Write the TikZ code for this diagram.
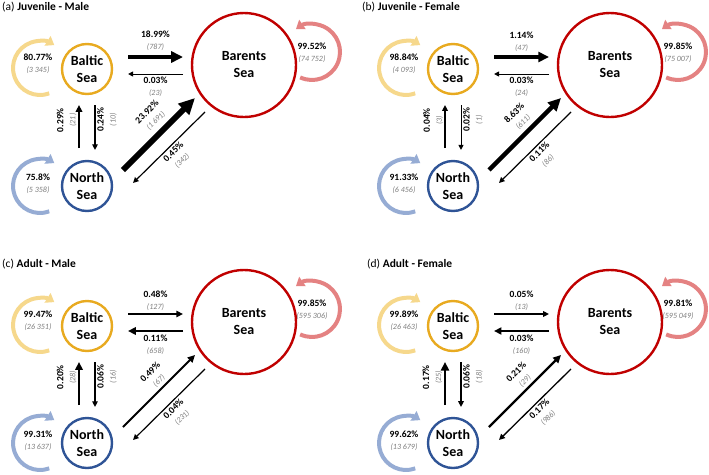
\documentclass[tikz,border=0pt]{standalone}
\usepackage{fontspec}
\setmainfont{Carlito}
\usetikzlibrary{arrows.meta}

\definecolor{balticcol}{RGB}{232,170,32}
\definecolor{balticloop}{RGB}{246,216,140}
\definecolor{northcol}{RGB}{47,84,150}
\definecolor{northloop}{RGB}{150,172,212}
\definecolor{barentscol}{RGB}{192,0,0}
\definecolor{barentsloop}{RGB}{228,130,130}
\definecolor{countgray}{RGB}{125,125,125}

% number of fish, under the percentage
\newcommand{\flowcount}[1]{{\fontsize{8}{10}\selectfont\mdseries\itshape\color{countgray}(#1)}}

\begin{document}
\begin{tikzpicture}[
        x = 1pt, y = 1pt,
        > = {Triangle[length=3pt 2.2, width=3pt 2]}, % filled arrow head
        sea/.style = {circle, draw, line width=2.4pt, minimum size=50pt,
            inner sep=0pt, align=center, font=\fontsize{14}{17}\selectfont\bfseries},
        big sea/.style = {sea, minimum size=104pt},
        flow/.style = {->, line width=#1},
        stay/.style = {line width=4pt, -{Triangle[length=8pt, width=11pt]}},
        pct/.style = {align=center, inner sep=1.5pt, font=\fontsize{9.5}{12}\selectfont\bfseries},
        title/.style = {anchor=west, inner sep=0pt, font=\fontsize{11.5}{13}\selectfont}
    ]

    \useasboundingbox (0,0) rectangle (709,-474);

    % (a) juvenile males
    \begin{scope}
        \node[title] (titleA) at (2,-7) {(a) \textbf{Juvenile - Male}};
        \node[sea, draw=balticcol] (baltA) at (87,-69) {Baltic\\Sea};
        \node[sea, draw=northcol] (northA) at (87,-186) {North\\Sea};
        \node[big sea, draw=barentscol] (barentsA) at (244,-65) {Barents\\Sea};

        \draw[stay, balticloop] ([shift={(-47,1)}]baltA.center) ++(-70:27) arc[start angle=-70, end angle=-302, radius=27];
        \draw[stay, northloop] ([shift={(-47,0)}]northA.center) ++(-70:27) arc[start angle=-70, end angle=-302, radius=27];
        \draw[stay, barentsloop] ([shift={(68,13)}]barentsA.center) ++(-115:28) arc[start angle=-115, end angle=125, radius=28];
        \node[pct] (stayBaltA) at ([shift={(-49,5)}]baltA.center) {80.77\%\\\flowcount{3 345}};
        \node[pct] (stayNorthA) at ([shift={(-49,2)}]northA.center) {75.8\%\\\flowcount{5 358}};
        \node[pct] (stayBarentsA) at ([shift={(68,12)}]barentsA.center) {99.52\%\\\flowcount{74 752}};

        \draw[flow=4pt] ([shift={(41,12)}]baltA.center) -- ([shift={(-61,8)}]barentsA.center)
            node[pct, midway, above=2.5pt] (lBaltBarA) {18.99\%\\\flowcount{787}};
        \draw[flow=1pt] ([shift={(-61,-9)}]barentsA.center) -- ([shift={(41,-5)}]baltA.center)
            node[pct, midway, below=0.5pt] (lBarBaltA) {0.03\%\\\flowcount{23}};
        \draw[flow=1.8pt] ([shift={(-8,38)}]northA.center) -- ([shift={(-8,-36)}]baltA.center)
            node[pct, pos=0.65, rotate=90, anchor=south] (lNorthBaltA) {0.29\%\\\flowcount{21}};
        \draw[flow=1.2pt] ([shift={(8,-36)}]baltA.center) -- ([shift={(8,36)}]northA.center)
            node[pct, pos=0.33, rotate=90, anchor=north] (lBaltNorthA) {0.24\%\\\flowcount{10}};
        \draw[flow=6pt] ([shift={(36,16)}]northA.center) -- ([shift={(-49,-33)}]barentsA.center)
            node[pct, pos=0.57, sloped, above=3.5pt] (lNorthBarA) {23.92\%\\\flowcount{1 691}};
        \draw[flow=1.2pt] ([shift={(-39,-47)}]barentsA.center) -- ([shift={(46,3)}]northA.center)
            node[pct, midway, sloped, below=0.5pt] (lBarNorthA) {0.45\%\\\flowcount{342}};
    \end{scope}

    % (b) juvenile females
    \begin{scope}[xshift=366pt]
        \node[title] (titleB) at (-4,-7) {(b) \textbf{Juvenile - Female}};
        \node[sea, draw=balticcol] (baltB) at (87,-69) {Baltic\\Sea};
        \node[sea, draw=northcol] (northB) at (87,-186) {North\\Sea};
        \node[big sea, draw=barentscol] (barentsB) at (244,-65) {Barents\\Sea};

        \draw[stay, balticloop] ([shift={(-47,1)}]baltB.center) ++(-70:27) arc[start angle=-70, end angle=-302, radius=27];
        \draw[stay, northloop] ([shift={(-47,0)}]northB.center) ++(-70:27) arc[start angle=-70, end angle=-302, radius=27];
        \draw[stay, barentsloop] ([shift={(68,13)}]barentsB.center) ++(-115:28) arc[start angle=-115, end angle=125, radius=28];
        \node[pct] (stayBaltB) at ([shift={(-49,5)}]baltB.center) {98.84\%\\\flowcount{4 093}};
        \node[pct] (stayNorthB) at ([shift={(-49,2)}]northB.center) {91.33\%\\\flowcount{6 456}};
        \node[pct] (stayBarentsB) at ([shift={(68,12)}]barentsB.center) {99.85\%\\\flowcount{75 007}};

        \draw[flow=3.5pt] ([shift={(41,12)}]baltB.center) -- ([shift={(-61,8)}]barentsB.center)
            node[pct, midway, above=2.2pt] (lBaltBarB) {1.14\%\\\flowcount{47}};
        \draw[flow=1pt] ([shift={(-61,-9)}]barentsB.center) -- ([shift={(41,-5)}]baltB.center)
            node[pct, midway, below=0.5pt] (lBarBaltB) {0.03\%\\\flowcount{24}};
        \draw[flow=1.3pt] ([shift={(-8,38)}]northB.center) -- ([shift={(-8,-36)}]baltB.center)
            node[pct, pos=0.65, rotate=90, anchor=south] (lNorthBaltB) {0.04\%\\\flowcount{3}};
        \draw[flow=1pt] ([shift={(8,-36)}]baltB.center) -- ([shift={(8,36)}]northB.center)
            node[pct, pos=0.33, rotate=90, anchor=north] (lBaltNorthB) {0.02\%\\\flowcount{1}};
        \draw[flow=4.5pt] ([shift={(36,16)}]northB.center) -- ([shift={(-49,-33)}]barentsB.center)
            node[pct, pos=0.57, sloped, above=2.5pt] (lNorthBarB) {8.63\%\\\flowcount{611}};
        \draw[flow=1.2pt] ([shift={(-39,-47)}]barentsB.center) -- ([shift={(46,3)}]northB.center)
            node[pct, midway, sloped, below=0.5pt] (lBarNorthB) {0.11\%\\\flowcount{86}};
    \end{scope}

    % (c) adult males
    \begin{scope}[yshift=-257pt]
        \node[title] (titleC) at (2,-7) {(c) \textbf{Adult - Male}};
        \node[sea, draw=balticcol] (baltC) at (87,-69) {Baltic\\Sea};
        \node[sea, draw=northcol] (northC) at (87,-186) {North\\Sea};
        \node[big sea, draw=barentscol] (barentsC) at (244,-65) {Barents\\Sea};

        \draw[stay, balticloop] ([shift={(-47,1)}]baltC.center) ++(-70:27) arc[start angle=-70, end angle=-302, radius=27];
        \draw[stay, northloop] ([shift={(-47,0)}]northC.center) ++(-70:27) arc[start angle=-70, end angle=-302, radius=27];
        \draw[stay, barentsloop] ([shift={(68,13)}]barentsC.center) ++(-115:28) arc[start angle=-115, end angle=125, radius=28];
        \node[pct] (stayBaltC) at ([shift={(-49,5)}]baltC.center) {99.47\%\\\flowcount{26 351}};
        \node[pct] (stayNorthC) at ([shift={(-49,2)}]northC.center) {99.31\%\\\flowcount{13 637}};
        \node[pct] (stayBarentsC) at ([shift={(68,12)}]barentsC.center) {99.85\%\\\flowcount{595 306}};

        \draw[flow=1.6pt] ([shift={(41,12)}]baltC.center) -- ([shift={(-61,8)}]barentsC.center)
            node[pct, midway, above=1pt] (lBaltBarC) {0.48\%\\\flowcount{127}};
        \draw[flow=2.2pt] ([shift={(-61,-9)}]barentsC.center) -- ([shift={(41,-5)}]baltC.center)
            node[pct, midway, below=1pt] (lBarBaltC) {0.11\%\\\flowcount{658}};
        \draw[flow=2.2pt] ([shift={(-8,38)}]northC.center) -- ([shift={(-8,-36)}]baltC.center)
            node[pct, pos=0.65, rotate=90, anchor=south] (lNorthBaltC) {0.20\%\\\flowcount{28}};
        \draw[flow=1.2pt] ([shift={(8,-36)}]baltC.center) -- ([shift={(8,36)}]northC.center)
            node[pct, pos=0.33, rotate=90, anchor=north] (lBaltNorthC) {0.06\%\\\flowcount{16}};
        \draw[flow=2pt] ([shift={(36,16)}]northC.center) -- ([shift={(-49,-33)}]barentsC.center)
            node[pct, pos=0.57, sloped, above=1pt] (lNorthBarC) {0.49\%\\\flowcount{67}};
        \draw[flow=1.2pt] ([shift={(-39,-47)}]barentsC.center) -- ([shift={(46,3)}]northC.center)
            node[pct, midway, sloped, below=0.5pt] (lBarNorthC) {0.04\%\\\flowcount{231}};
    \end{scope}

    % (d) adult females
    \begin{scope}[xshift=366pt, yshift=-257pt]
        \node[title] (titleD) at (1,-7) {(d) \textbf{Adult - Female}};
        \node[sea, draw=balticcol] (baltD) at (87,-69) {Baltic\\Sea};
        \node[sea, draw=northcol] (northD) at (87,-186) {North\\Sea};
        \node[big sea, draw=barentscol] (barentsD) at (244,-65) {Barents\\Sea};

        \draw[stay, balticloop] ([shift={(-47,1)}]baltD.center) ++(-70:27) arc[start angle=-70, end angle=-302, radius=27];
        \draw[stay, northloop] ([shift={(-47,0)}]northD.center) ++(-70:27) arc[start angle=-70, end angle=-302, radius=27];
        \draw[stay, barentsloop] ([shift={(68,13)}]barentsD.center) ++(-115:28) arc[start angle=-115, end angle=125, radius=28];
        \node[pct] (stayBaltD) at ([shift={(-49,5)}]baltD.center) {99.89\%\\\flowcount{26 463}};
        \node[pct] (stayNorthD) at ([shift={(-49,2)}]northD.center) {99.62\%\\\flowcount{13 679}};
        \node[pct] (stayBarentsD) at ([shift={(68,12)}]barentsD.center) {99.81\%\\\flowcount{595 049}};

        \draw[flow=1.3pt] ([shift={(41,12)}]baltD.center) -- ([shift={(-61,8)}]barentsD.center)
            node[pct, midway, above=1pt] (lBaltBarD) {0.05\%\\\flowcount{13}};
        \draw[flow=2pt] ([shift={(-61,-9)}]barentsD.center) -- ([shift={(41,-5)}]baltD.center)
            node[pct, midway, below=1pt] (lBarBaltD) {0.03\%\\\flowcount{160}};
        \draw[flow=2.5pt] ([shift={(-8,38)}]northD.center) -- ([shift={(-8,-36)}]baltD.center)
            node[pct, pos=0.65, rotate=90, anchor=south] (lNorthBaltD) {0.17\%\\\flowcount{25}};
        \draw[flow=1.3pt] ([shift={(8,-36)}]baltD.center) -- ([shift={(8,36)}]northD.center)
            node[pct, pos=0.33, rotate=90, anchor=north] (lBaltNorthD) {0.06\%\\\flowcount{18}};
        \draw[flow=2.2pt] ([shift={(36,16)}]northD.center) -- ([shift={(-49,-33)}]barentsD.center)
            node[pct, pos=0.57, sloped, above=1pt] (lNorthBarD) {0.21\%\\\flowcount{29}};
        \draw[flow=1.3pt] ([shift={(-39,-47)}]barentsD.center) -- ([shift={(46,3)}]northD.center)
            node[pct, midway, sloped, below=0.5pt] (lBarNorthD) {0.17\%\\\flowcount{986}};
    \end{scope}
\end{tikzpicture}
\end{document}
